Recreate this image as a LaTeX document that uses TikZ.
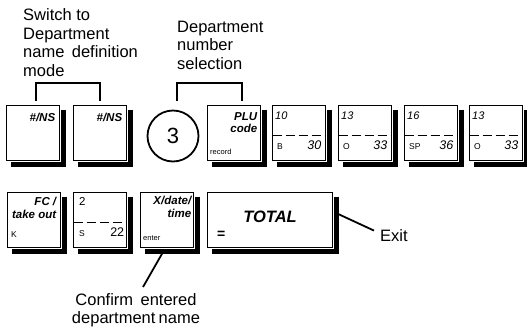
\documentclass[tikz,border=0pt]{standalone}
\usepackage{fontspec}
\setmainfont{Liberation Sans}
\begin{document}
\begin{tikzpicture}[x=1pt,y=-1pt,
  keybox/.style={draw=black, line width=1.4pt, fill=white, inner sep=0pt, anchor=north west,
    minimum width=53pt, minimum height=55pt},
  numkey/.style={keybox, path picture={
    \draw[line width=1.1pt, dash pattern=on 9pt off 4pt]
      ([yshift=-30pt]path picture bounding box.north west) -- ([yshift=-30pt]path picture bounding box.north east);}},
  shadowline/.style={draw=black, line width=4.6pt, line join=miter, line cap=butt},
  lbl/.style={font=\fontsize{16.5}{18.5}\selectfont, inner sep=0pt},
  kb/.style={font=\fontsize{11.5}{12.5}\selectfont\bfseries\itshape, inner sep=0pt, align=right},
  ks/.style={font=\fontsize{7.5}{8}\selectfont, inner sep=0pt},
  kl/.style={font=\fontsize{8.5}{9}\selectfont, inner sep=0pt},
  ktop/.style={font=\fontsize{11}{12}\selectfont\itshape, inner sep=0pt},
  kbot/.style={font=\fontsize{12.5}{13}\selectfont\itshape, inner sep=0pt},
  conn/.style={line width=1.8pt}
]
\useasboundingbox (0,0) rectangle (527,327);

% texts above
\node[lbl, anchor=north west, align=left] (t1) at (23,8.5) {Switch to\\Department\\name\hspace{0.45em}definition\\mode};
\node[lbl, anchor=north west, align=left] (t2) at (177,20.5) {Department\\number\\selection};

% top row
\node[keybox] (k1) at (6,105) {};
\node[kb, anchor=north east] (k1t) at ([xshift=-5pt,yshift=-8pt]k1.north east) {\#/NS};
\node[keybox] (k2) at (73,105) {};
\node[kb, anchor=north east] (k2t) at ([xshift=-5pt,yshift=-8pt]k2.north east) {\#/NS};
\node[circle, draw, line width=1.8pt, minimum size=51pt, inner sep=0pt,
      font=\fontsize{22}{22}\selectfont] (c3) at (173,136) {3};
\node[keybox] (kp) at (207,105) {};
\node[kb, anchor=north east] (kpt) at ([xshift=-4pt,yshift=-7pt]kp.north east) {PLU\\code};
\node[ks, anchor=base west] (kpr) at ([xshift=3pt,yshift=7pt]kp.south west) {record};

\node[numkey] (n1) at (272,105) {};
\node[ktop, anchor=north west] (n1t) at ([xshift=3pt,yshift=-7pt]n1.north west) {10};
\node[kl, anchor=base west] (n1l) at ([xshift=5pt,yshift=12pt]n1.south west) {B};
\node[kbot, anchor=base east] (n1r) at ([xshift=-5pt,yshift=12pt]n1.south east) {30};

\node[numkey] (n2) at (338,105) {};
\node[ktop, anchor=north west] (n2t) at ([xshift=3pt,yshift=-7pt]n2.north west) {13};
\node[kl, anchor=base west] (n2l) at ([xshift=5pt,yshift=12pt]n2.south west) {O};
\node[kbot, anchor=base east] (n2r) at ([xshift=-5pt,yshift=12pt]n2.south east) {33};

\node[numkey] (n3) at (404,105) {};
\node[ktop, anchor=north west] (n3t) at ([xshift=3pt,yshift=-7pt]n3.north west) {16};
\node[kl, anchor=base west] (n3l) at ([xshift=5pt,yshift=12pt]n3.south west) {SP};
\node[kbot, anchor=base east] (n3r) at ([xshift=-5pt,yshift=12pt]n3.south east) {36};

\node[numkey] (n4) at (469,105) {};
\node[ktop, anchor=north west] (n4t) at ([xshift=3pt,yshift=-7pt]n4.north west) {13};
\node[kl, anchor=base west] (n4l) at ([xshift=5pt,yshift=12pt]n4.south west) {O};
\node[kbot, anchor=base east] (n4r) at ([xshift=-5pt,yshift=12pt]n4.south east) {33};

% brackets
\coordinate (b1a) at (36,101);
\coordinate (b1b) at (100,101);
\coordinate (b2a) at (177,101);
\coordinate (b2b) at (242,101);
\draw[conn] (b1a) -- ++(0,-18) -| (b1b);
\draw[conn] (b2a) -- ++(0,-18) -| (b2b);

% bottom row
\node[keybox] (f1) at (7,192) {};
\node[kb, anchor=north east] (f1t) at ([xshift=-5pt,yshift=-5pt]f1.north east) {FC /\\take out};
\node[kl, anchor=base west] (f1k) at ([xshift=4pt,yshift=11pt]f1.south west) {K};

\node[numkey] (f2) at (73,192) {};
\node[font=\fontsize{11.5}{12}\selectfont, inner sep=0pt, anchor=north west] (f2t) at ([xshift=6pt,yshift=-5pt]f2.north west) {2};
\node[kl, anchor=base west] (f2l) at ([xshift=6pt,yshift=12pt]f2.south west) {S};
\node[font=\fontsize{12.5}{13}\selectfont, inner sep=0pt, anchor=base east] (f2r) at ([xshift=-3pt,yshift=12pt]f2.south east) {22};

\node[keybox] (f3) at (140,192) {};
\node[kb, anchor=north east] (f3t) at ([xshift=-3pt,yshift=-4pt]f3.north east) {X/date/\\time};
\node[ks, anchor=base west] (f3e) at ([xshift=3pt,yshift=8pt]f3.south west) {enter};

\node[keybox, minimum width=125pt] (tot) at (207,192) {};
\node[font=\fontsize{16.5}{17}\selectfont\bfseries\itshape, inner sep=0pt] (tott) at (270,217) {TOTAL};
\node[font=\fontsize{14}{14}\selectfont\bfseries, inner sep=0pt, anchor=west] (tote) at (217,235) {=};

% key shadows: thick bars along right and bottom edges
\foreach \k in {k1,k2,kp,n1,n2,n3,n4,f1,f2,f3,tot}{
  \draw[shadowline] ([xshift=3.0pt,yshift=-4.5pt]\k.north east) -- ([xshift=3.0pt,yshift=-3.0pt]\k.south east) -- ([xshift=4.5pt,yshift=-3.0pt]\k.south west);
}

% Exit
\node[lbl, anchor=base west] (exit) at (380,241.5) {Exit};
\coordinate (ex0) at (336,213);
\draw[conn] (ex0) -- ([xshift=-6pt,yshift=5pt]exit.west);

% Confirm
\node[lbl, anchor=north, align=center] (conf) at (136,293) {Confirm\hspace{0.45em}entered\\department\hspace{0.2em}name};
\coordinate (cf0) at (163,252);
\draw[conn] (cf0) -- ([xshift=7pt,yshift=6pt]conf.north);
\end{tikzpicture}
\end{document}
